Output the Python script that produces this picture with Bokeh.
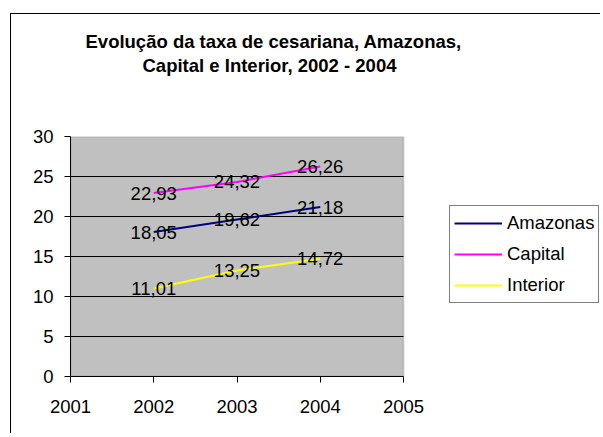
from bokeh.plotting import figure
from bokeh.models import Range1d, FixedTicker, Title, ColumnDataSource, BoxAnnotation
from bokeh.core.properties import value
from bokeh.embed import file_html
from bokeh.resources import INLINE

# ---- data ----
years = [2002, 2003, 2004]
amazonas = [18.05, 19.62, 21.18]
capital = [22.93, 24.32, 26.26]
interior = [11.01, 13.25, 14.72]
series_names = ["Amazonas", "Capital", "Interior"]
series_colors = ["#000080", "#FF00FF", "#FFFF00"]
x_ticks = [2001, 2002, 2003, 2004, 2005]
y_ticks = [0, 5, 10, 15, 20, 25, 30]
grid_ticks = [5, 10, 15, 20, 25]
title_line1 = "Evolução da taxa de cesariana, Amazonas,"
title_line2 = "Capital e Interior, 2002 - 2004"

FONT = "Liberation Sans"
FS = "18.5px"

# layout geometry (pixels)
W, H = 590, 420
LEFT, TOP, BOTTOM = 59, 122, 58
PLOT_W = 333  # width of the grey plot area
px_per_year = PLOT_W / (x_ticks[-1] - x_ticks[0])
x_end = x_ticks[0] + (W - LEFT) / px_per_year

p = figure(width=W, height=H, output_backend="svg", toolbar_location=None,
           x_range=Range1d(x_ticks[0], x_end), y_range=Range1d(y_ticks[0], y_ticks[-1]),
           min_border_left=LEFT, min_border_right=0, min_border_top=TOP,
           min_border_bottom=BOTTOM, title=None)
p.styles = {"margin-left": "10px", "margin-top": "13px",
            "border-left": "1px solid black", "border-top": "1px solid black"}

p.background_fill_color = "white"
p.border_fill_color = "white"
p.outline_line_color = None

# grey plot area
plot_area = BoxAnnotation(left=x_ticks[0], right=x_ticks[-1], bottom=y_ticks[0], top=y_ticks[-1],
                          fill_color="#C0C0C0", fill_alpha=1, line_color="#808080",
                          line_width=2, level="underlay")
p.add_layout(plot_area)

# titles: spacer closest to frame, then line 2, then line 1
spacer = Title(text=" ", align="left", offset=0, standoff=57,
               text_font=FONT, text_font_size="1px", text_color="white")
t2 = Title(text=title_line2, align="left", offset=72, standoff=1,
           text_font=FONT, text_font_size=FS, text_font_style="bold", text_color="black")
t1 = Title(text=title_line1, align="left", offset=15, standoff=1,
           text_font=FONT, text_font_size=FS, text_font_style="bold", text_color="black")
p.add_layout(spacer, "above")
p.add_layout(t2, "above")
p.add_layout(t1, "above")

# axes
p.xaxis.ticker = FixedTicker(ticks=x_ticks)
p.yaxis.ticker = FixedTicker(ticks=y_ticks)
p.xaxis.bounds = (x_ticks[0], x_ticks[-1])
for ax in (p.xaxis, p.yaxis):
    ax.axis_line_color = "black"
    ax.axis_line_width = 1
    ax.major_tick_line_color = "black"
    ax.major_tick_out = 6
    ax.major_tick_in = 0
    ax.minor_tick_line_color = None
    ax.major_label_text_font = FONT
    ax.major_label_text_font_size = FS
    ax.major_label_text_color = "black"
p.xaxis.major_label_standoff = 17
p.yaxis.major_label_standoff = 11

p.xgrid.grid_line_color = None
p.ygrid.grid_line_color = None
p.segment(x0=[x_ticks[0]] * len(grid_ticks), x1=[x_ticks[-1]] * len(grid_ticks),
          y0=grid_ticks, y1=grid_ticks, line_color="black", line_width=1)

# series
all_vals = [amazonas, capital, interior]
for name, color, vals in zip(series_names, series_colors, all_vals):
    p.line(years, vals, line_color=color, line_width=2, legend_label=name)

for vals in all_vals:
    src = ColumnDataSource(dict(x=years, y=vals,
                                t=[f"{v:.2f}".replace(".", ",") for v in vals]))
    p.text(x="x", y="y", text="t", source=src, text_align="center",
           text_baseline="middle", text_font=value(FONT), text_font_size=value(FS),
           text_color="black")

lg = p.legend[0]
lg.location = (379, 73)
lg.margin = 0
lg.padding = 4
lg.spacing = 5
lg.glyph_width = 48
lg.glyph_height = 26
lg.label_standoff = 5
lg.label_height = 26
lg.label_text_font = FONT
lg.label_text_font_size = FS
lg.label_text_color = "black"
lg.border_line_color = "black"
lg.border_line_width = 1
lg.background_fill_color = "white"
lg.background_fill_alpha = 1

open("out.html", "w").write(file_html(p, INLINE))
